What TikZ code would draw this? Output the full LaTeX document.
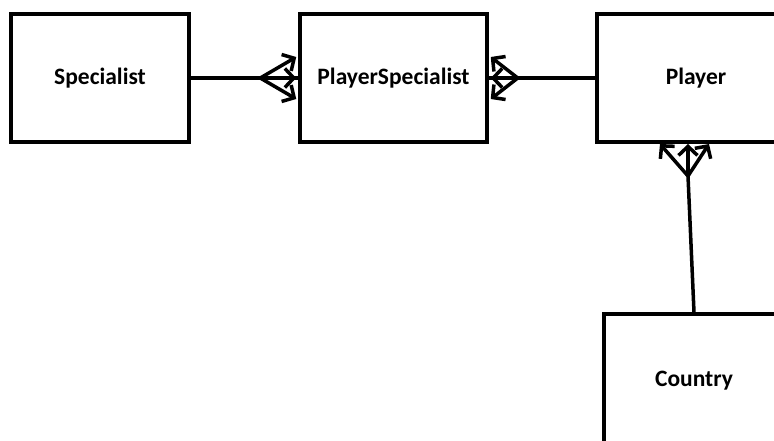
\documentclass[tikz,border=0pt]{standalone}
\usepackage{fontspec}
\setmainfont{Carlito}
\usetikzlibrary{arrows.meta,calc}
\begin{document}
\begin{tikzpicture}[x=1pt,y=-1pt,
  entity/.style={draw,line width=3.5pt,inner sep=0pt,font=\bfseries\fontsize{23.5}{28}\selectfont},
  link/.style={line width=3.5pt},
  many/.style={line width=3.5pt,-{Straight Barb[length=9pt,width=19pt,line width=3.5pt]}}]
\useasboundingbox (0,0) rectangle (774,440);
\clip (0,0) rectangle (774,440);
\node[entity,minimum width=178pt,minimum height=128pt] (sp) at (100,78) {Specialist};
\node[entity,minimum width=187pt,minimum height=128pt] (ps) at (393.5,78) {PlayerSpecialist};
\node[entity,minimum width=198pt,minimum height=128pt] (pl) at (696,78) {Player};
\node[entity,minimum width=180pt,minimum height=134pt] (co) at (694,381) {Country};
% Specialist -- PlayerSpecialist, many end at PlayerSpecialist
\coordinate (f1) at ($(ps.west)+(-38,0)$);
\draw[link] (sp.east) -- (ps.west);
\draw[many] (f1) -- ($(ps.west)+(-2,-21)$);
\draw[many] (f1) -- ($(ps.west)+(-2,0)$);
\draw[many] (f1) -- ($(ps.west)+(-2,21)$);
% PlayerSpecialist -- Player, many end at PlayerSpecialist
\coordinate (f2) at ($(ps.east)+(29,0)$);
\draw[link] (pl.west) -- (ps.east);
\draw[many] (f2) -- ($(ps.east)+(2,-21)$);
\draw[many] (f2) -- ($(ps.east)+(2,0)$);
\draw[many] (f2) -- ($(ps.east)+(2,21)$);
% Country -- Player, many end at Player
\coordinate (cn) at ($(co.north)+(0,0)$);
\coordinate (f3) at (688,176);
\draw[link] (cn) -- (f3);
\draw[many] (f3) -- (660,144);
\draw[many] (f3) -- (688,144);
\draw[many] (f3) -- (709,144);
\end{tikzpicture}
\end{document}
